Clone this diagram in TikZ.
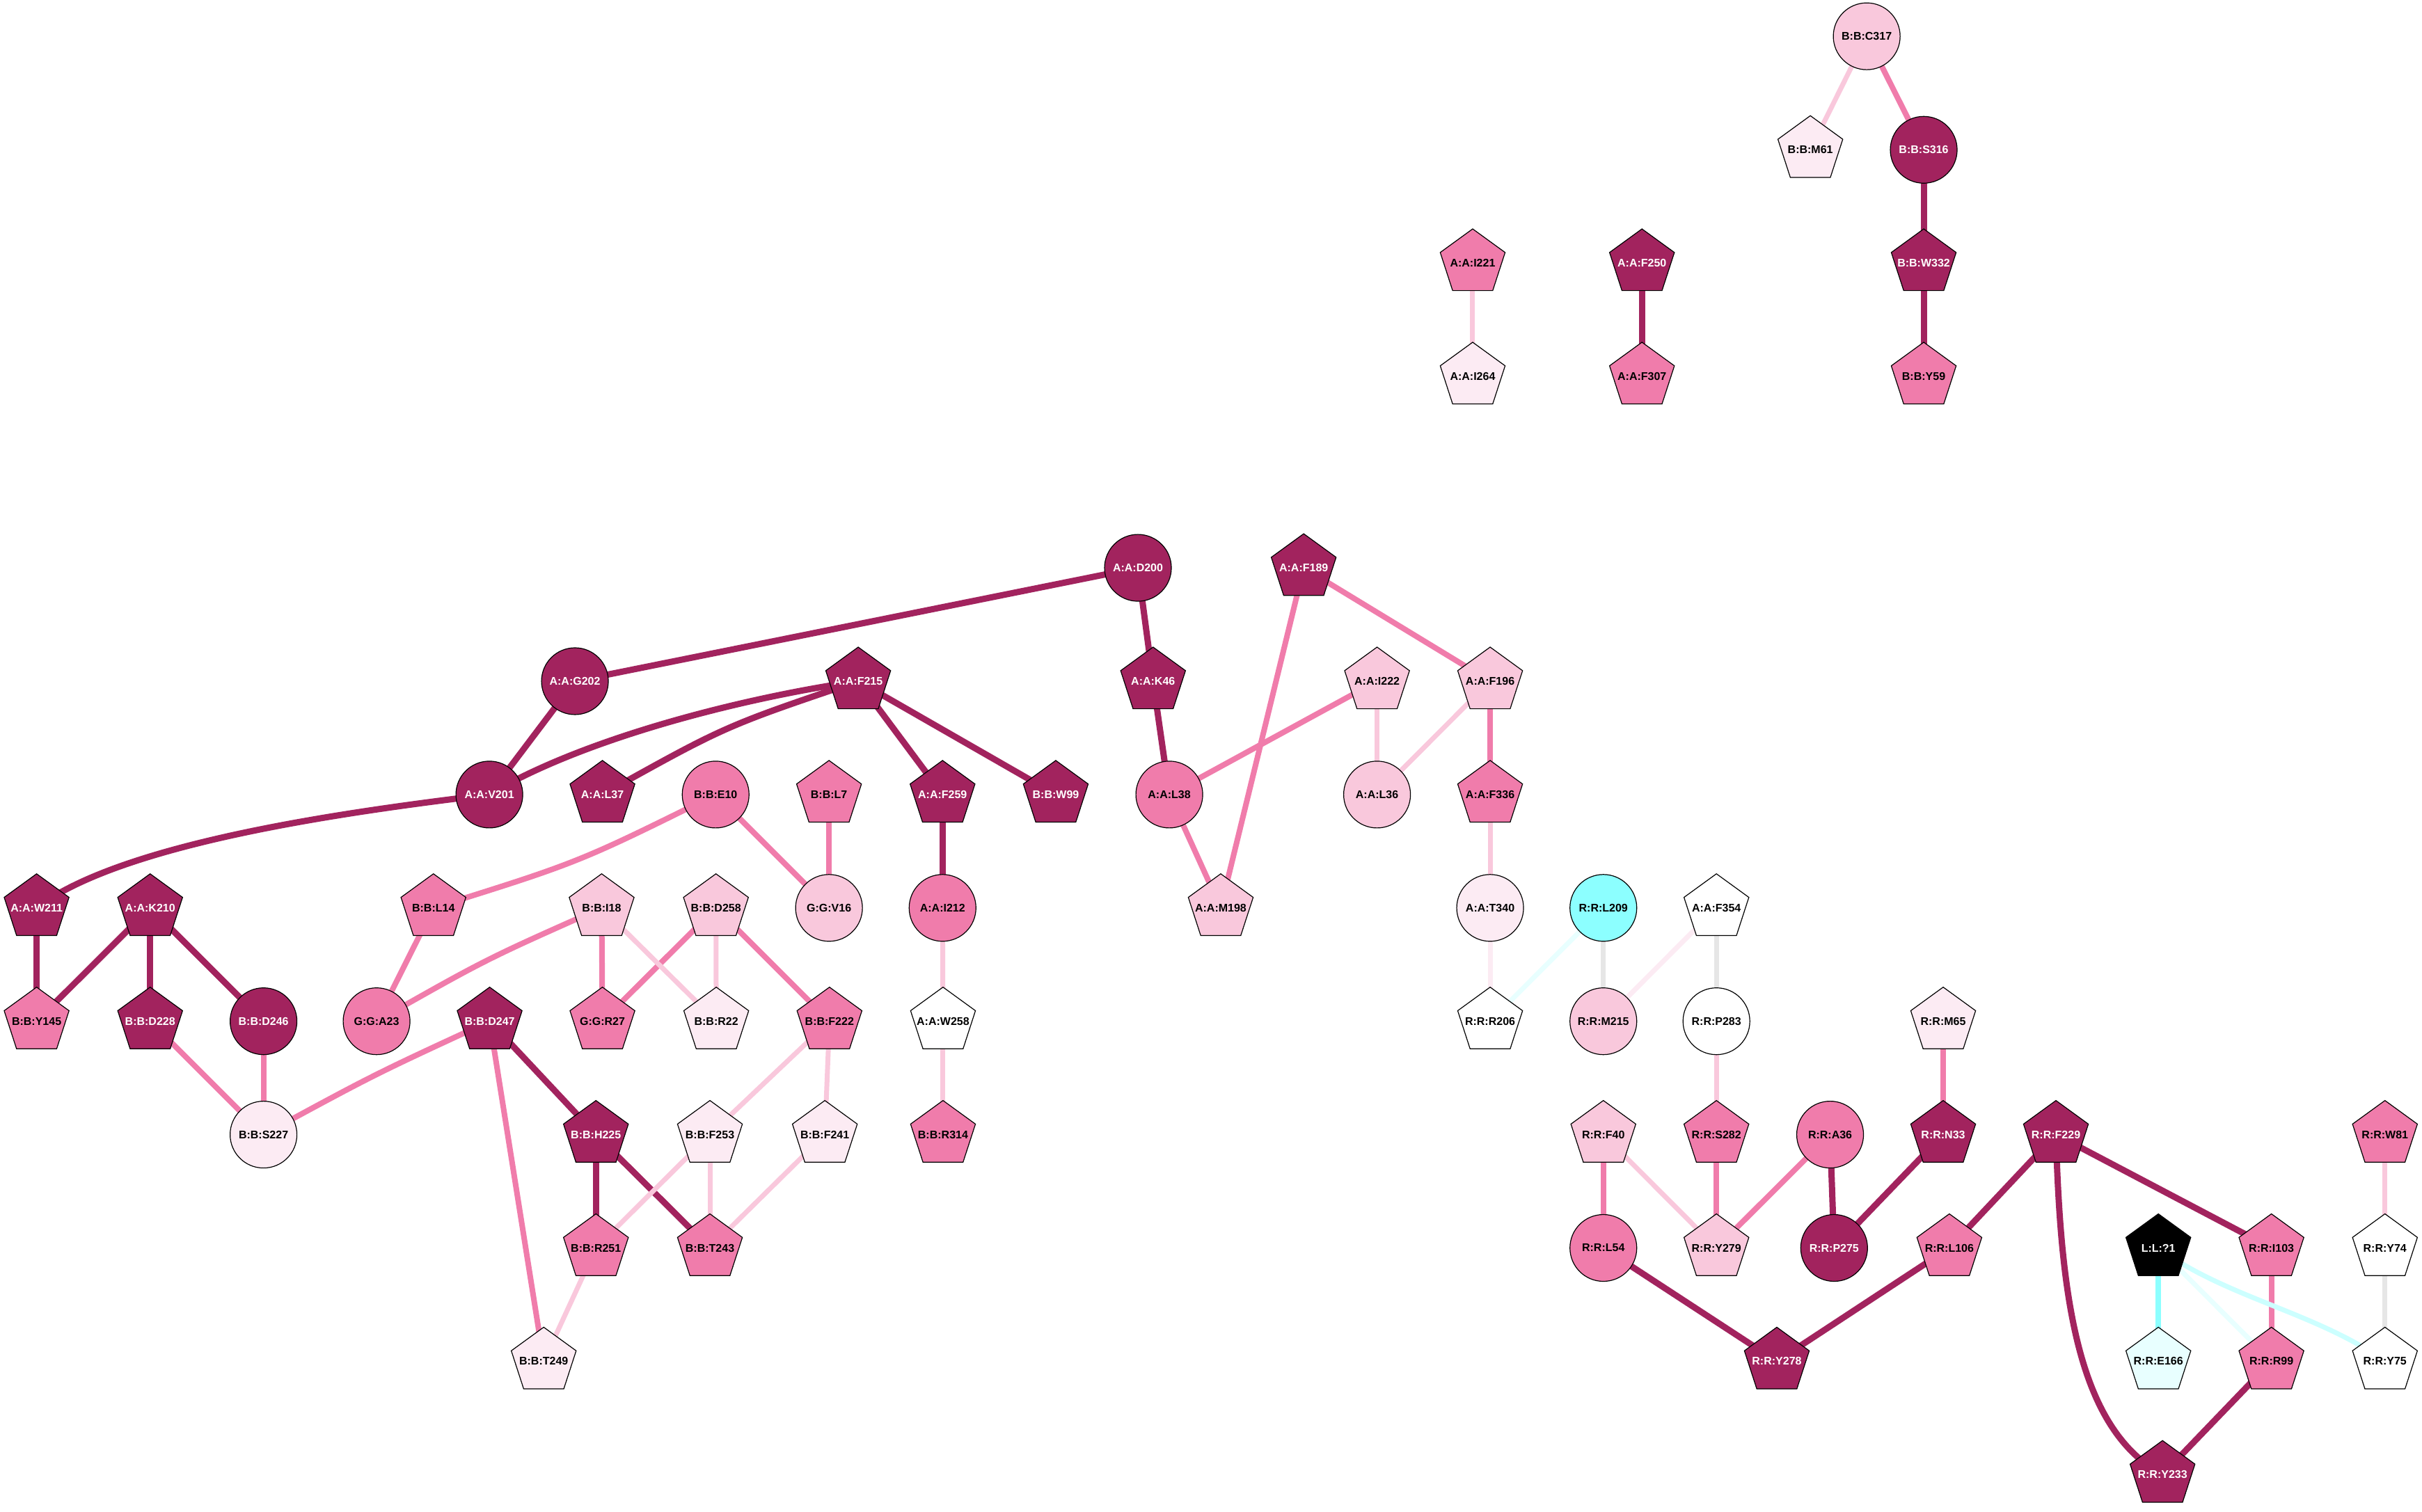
\documentclass[tikz,border=0pt]{standalone}
\usepackage{fontspec}
\setmainfont{Liberation Sans}
\usetikzlibrary{shapes.geometric}
\definecolor{cdark}{HTML}{A2235E}
\definecolor{cmed}{HTML}{F07CAB}
\definecolor{clight}{HTML}{F9C8DC}
\definecolor{cvlight}{HTML}{FCEBF3}
\definecolor{cgrey}{HTML}{E6E6E6}
\definecolor{ccyan}{HTML}{8CFFFF}
\definecolor{ccyanl}{HTML}{CCFFFF}
\definecolor{ccyanvl}{HTML}{E8FFFF}
\newcommand{\nlab}[1]{\makebox[0pt][c]{#1}}
\pgfdeclarelayer{bg}
\pgfdeclarelayer{edges}
\pgfsetlayers{bg,edges,main}
\tikzset{
  nbase/.style={draw=black, line width=1.2pt, inner sep=0pt, outer sep=0pt, text=black,
    font=\fontsize{16}{19}\selectfont\bfseries},
  ncirc/.style={nbase, circle, minimum size=96pt},
  npent/.style={nbase, regular polygon, regular polygon sides=5, minimum size=98pt},
  fdark/.style={fill=cdark, text=white},
  fmed/.style={fill=cmed},
  flight/.style={fill=clight},
  fvlight/.style={fill=cvlight},
  fwhite/.style={fill=white},
  fcyan/.style={fill=ccyan},
  fvcyan/.style={fill=ccyanvl},
  fblack/.style={fill=black, text=white},
  edark/.style={draw=cdark, line width=9pt},
  emed/.style={draw=cmed, line width=8pt},
  elight/.style={draw=clight, line width=7pt},
  evlight/.style={draw=cvlight, line width=7pt},
  egrey/.style={draw=cgrey, line width=7pt},
  ecyan/.style={draw=ccyan, line width=8pt},
  ecyanl/.style={draw=ccyanl, line width=7pt},
  ecyanvl/.style={draw=ccyanvl, line width=7pt}
}
\begin{document}
\begin{tikzpicture}[x=2.21939pt, y=-2.21939pt]
\useasboundingbox (0,0) rectangle (1568,979);
\begin{pgfonlayer}{bg}
\fill[white] (0,0) rectangle (1568,979);
\end{pgfonlayer}

% top group
\node[ncirc,flight] (C317) at (1208.5,23.5) {\nlab{B:B:C317}};
\node[npent,fvlight] (M61) at (1172,97) {\nlab{B:B:M61}};
\node[ncirc,fdark] (S316) at (1245.4,97) {\nlab{B:B:S316}};
\node[npent,fdark] (W332) at (1245.4,170.3) {\nlab{B:B:W332}};
\node[npent,fmed] (Y59) at (1245.4,243.7) {\nlab{B:B:Y59}};
\node[npent,fmed] (I221) at (953.4,170.3) {\nlab{A:A:I221}};
\node[npent,fvlight] (I264) at (953.4,243.7) {\nlab{A:A:I264}};
\node[npent,fdark] (F250) at (1063,170.3) {\nlab{A:A:F250}};
\node[npent,fmed] (F307) at (1063,243.7) {\nlab{A:A:F307}};

% main group
\node[ncirc,fdark] (D200) at (736.7,367.7) {\nlab{A:A:D200}};
\node[npent,fdark] (F189) at (844,367.7) {\nlab{A:A:F189}};
\node[ncirc,fdark] (G202) at (372.2,441.1) {\nlab{A:A:G202}};
\node[npent,fdark] (F215) at (555.6,441.1) {\nlab{A:A:F215}};
\node[npent,fdark] (K46) at (746.5,441.1) {\nlab{A:A:K46}};
\node[npent,flight] (I222) at (891.5,441.1) {\nlab{A:A:I222}};
\node[npent,flight] (F196) at (964.7,441.1) {\nlab{A:A:F196}};
\node[ncirc,fdark] (V201) at (316.8,514.5) {\nlab{A:A:V201}};
\node[npent,fdark] (L37) at (390,514.5) {\nlab{A:A:L37}};
\node[ncirc,fmed] (E10) at (463.3,514.5) {\nlab{B:B:E10}};
\node[npent,fmed] (L7) at (536.7,514.5) {\nlab{B:B:L7}};
\node[npent,fdark] (F259) at (610.2,514.5) {\nlab{A:A:F259}};
\node[npent,fdark] (W99) at (683.5,514.5) {\nlab{B:B:W99}};
\node[ncirc,fmed] (L38) at (757,514.5) {\nlab{A:A:L38}};
\node[ncirc,flight] (L36) at (891.5,514.5) {\nlab{A:A:L36}};
\node[npent,fmed] (F336) at (964.7,514.5) {\nlab{A:A:F336}};
\node[npent,fdark] (W211) at (23.7,587.9) {\nlab{A:A:W211}};
\node[npent,fdark] (K210) at (97.2,587.9) {\nlab{A:A:K210}};
\node[npent,fmed] (L14) at (280.6,587.9) {\nlab{B:B:L14}};
\node[npent,flight] (I18) at (389.5,587.9) {\nlab{B:B:I18}};
\node[npent,flight] (D258) at (463.5,587.9) {\nlab{B:B:D258}};
\node[ncirc,flight] (V16) at (536.7,587.9) {\nlab{G:G:V16}};
\node[ncirc,fmed] (I212) at (610.2,587.9) {\nlab{A:A:I212}};
\node[npent,flight] (M198) at (790.3,587.9) {\nlab{A:A:M198}};
\node[ncirc,fvlight] (T340) at (964.7,587.9) {\nlab{A:A:T340}};
\node[ncirc,fcyan] (L209) at (1038,587.9) {\nlab{R:R:L209}};
\node[npent,fwhite] (F354) at (1111.2,587.9) {\nlab{A:A:F354}};
\node[npent,fmed] (Y145) at (23.7,661.3) {\nlab{B:B:Y145}};
\node[npent,fdark] (D228) at (97.2,661.3) {\nlab{B:B:D228}};
\node[ncirc,fdark] (D246) at (170.6,661.3) {\nlab{B:B:D246}};
\node[ncirc,fmed] (A23) at (243.8,661.3) {\nlab{G:G:A23}};
\node[npent,fdark] (D247) at (317,661.3) {\nlab{B:B:D247}};
\node[npent,fmed] (R27) at (390,661.3) {\nlab{G:G:R27}};
\node[npent,fvlight] (R22) at (463.7,661.3) {\nlab{B:B:R22}};
\node[npent,fmed] (F222) at (537,661.3) {\nlab{B:B:F222}};
\node[npent,fwhite] (W258) at (610.5,661.3) {\nlab{A:A:W258}};
\node[npent,fwhite] (R206) at (964.7,661.3) {\nlab{R:R:R206}};
\node[ncirc,flight] (M215) at (1038,661.3) {\nlab{R:R:M215}};
\node[ncirc,fwhite] (P283) at (1111.2,661.3) {\nlab{R:R:P283}};
\node[npent,fvlight] (M65) at (1258,661.3) {\nlab{R:R:M65}};
\node[ncirc,fvlight] (S227) at (170.6,734.7) {\nlab{B:B:S227}};
\node[npent,fdark] (H225) at (385.8,734.7) {\nlab{B:B:H225}};
\node[npent,fvlight] (F253) at (459.6,734.7) {\nlab{B:B:F253}};
\node[npent,fvlight] (F241) at (534,734.7) {\nlab{B:B:F241}};
\node[npent,fmed] (R314) at (610.5,734.7) {\nlab{B:B:R314}};
\node[npent,flight] (F40) at (1038,734.7) {\nlab{R:R:F40}};
\node[npent,fmed] (S282) at (1111.2,734.7) {\nlab{R:R:S282}};
\node[ncirc,fmed] (A36) at (1184.8,734.7) {\nlab{R:R:A36}};
\node[npent,fdark] (N33) at (1258,734.7) {\nlab{R:R:N33}};
\node[npent,fdark] (F229) at (1331,734.7) {\nlab{R:R:F229}};
\node[npent,fmed] (W81) at (1544,734.7) {\nlab{R:R:W81}};
\node[npent,fmed] (R251) at (385.8,808.1) {\nlab{B:B:R251}};
\node[npent,fmed] (T243) at (459.6,808.1) {\nlab{B:B:T243}};
\node[ncirc,fmed] (L54) at (1038,808.1) {\nlab{R:R:L54}};
\node[npent,flight] (Y279) at (1111.2,808.1) {\nlab{R:R:Y279}};
\node[ncirc,fdark] (P275) at (1187.4,808.1) {\nlab{R:R:P275}};
\node[npent,fmed] (L106) at (1262,808.1) {\nlab{R:R:L106}};
\node[npent,fblack] (Q1) at (1397.3,808.1) {\nlab{L:L:?1}};
\node[npent,fmed] (I103) at (1470.5,808.1) {\nlab{R:R:I103}};
\node[npent,fwhite] (Y74) at (1544,808.1) {\nlab{R:R:Y74}};
\node[npent,fvlight] (T249) at (352,881.5) {\nlab{B:B:T249}};
\node[npent,fdark] (Y278) at (1150.3,881.5) {\nlab{R:R:Y278}};
\node[npent,fvcyan] (E166) at (1397.3,881.5) {\nlab{R:R:E166}};
\node[npent,fmed] (R99) at (1470.5,881.5) {\nlab{R:R:R99}};
\node[npent,fwhite] (Y75) at (1544,881.5) {\nlab{R:R:Y75}};
\node[npent,fdark] (Y233) at (1400,954.9) {\nlab{R:R:Y233}};

\begin{pgfonlayer}{edges}
% dark edges
\draw[edark] (S316.center) -- (W332.center);
\draw[edark] (W332.center) -- (Y59.center);
\draw[edark] (F250.center) -- (F307.center);
\draw[edark] (D200.center) -- (G202.center);
\draw[edark] (D200.center) -- (K46.center);
\draw[edark] (G202.center) -- (V201.center);
\draw[edark] (F215.center) .. controls (480,452) and (376.8,478.5) .. (V201.center);
\draw[edark] (F215.center) .. controls (469.4,470.2) .. (L37.center);
\draw[edark] (F215.center) -- (F259.center);
\draw[edark] (F215.center) -- (W99.center);
\draw[edark] (V201.center) .. controls (230,525) and (80,545) .. (W211.center);
\draw[edark] (K46.center) -- (L38.center);
\draw[edark] (F259.center) -- (I212.center);
\draw[edark] (W211.center) -- (Y145.center);
\draw[edark] (K210.center) -- (Y145.center);
\draw[edark] (K210.center) -- (D228.center);
\draw[edark] (K210.center) -- (D246.center);
\draw[edark] (D247.center) -- (H225.center);
\draw[edark] (H225.center) -- (R251.center);
\draw[edark] (H225.center) -- (T243.center);
\draw[edark] (A36.center) -- (P275.center);
\draw[edark] (N33.center) -- (P275.center);
\draw[edark] (L54.center) -- (Y278.center);
\draw[edark] (L106.center) -- (Y278.center);
\draw[edark] (F229.center) -- (L106.center);
\draw[edark] (F229.center) -- (I103.center);
\draw[edark] (F229.center) .. controls (1334,840) and (1345,925) .. (Y233.center);
\draw[edark] (R99.center) -- (Y233.center);
% medium edges
\draw[emed] (C317.center) -- (S316.center);
\draw[emed] (F189.center) -- (M198.center);
\draw[emed] (F189.center) -- (F196.center);
\draw[emed] (I222.center) -- (L38.center);
\draw[emed] (F196.center) -- (F336.center);
\draw[emed] (L38.center) -- (M198.center);
\draw[emed] (L7.center) -- (V16.center);
\draw[emed] (E10.center) -- (V16.center);
\draw[emed] (E10.center) .. controls (374.8,558.4) .. (L14.center);
\draw[emed] (L14.center) -- (A23.center);
\draw[emed] (I18.center) .. controls (314.85,621.0) .. (A23.center);
\draw[emed] (I18.center) -- (R27.center);
\draw[emed] (D258.center) -- (R27.center);
\draw[emed] (D258.center) -- (F222.center);
\draw[emed] (D228.center) -- (S227.center);
\draw[emed] (D246.center) -- (S227.center);
\draw[emed] (D247.center) .. controls (242.6,695.6) .. (S227.center);
\draw[emed] (D247.center) -- (T249.center);
\draw[emed] (M65.center) -- (N33.center);
\draw[emed] (F40.center) -- (L54.center);
\draw[emed] (S282.center) -- (Y279.center);
\draw[emed] (A36.center) -- (Y279.center);
\draw[emed] (I103.center) -- (R99.center);
% light edges
\draw[elight] (C317.center) -- (M61.center);
\draw[elight] (I221.center) -- (I264.center);
\draw[elight] (I222.center) -- (L36.center);
\draw[elight] (F196.center) -- (L36.center);
\draw[elight] (F336.center) -- (T340.center);
\draw[elight] (I212.center) -- (W258.center);
\draw[elight] (W258.center) -- (R314.center);
\draw[elight] (I18.center) -- (R22.center);
\draw[elight] (D258.center) -- (R22.center);
\draw[elight] (F222.center) -- (F253.center);
\draw[elight] (F222.center) -- (F241.center);
\draw[elight] (F253.center) -- (R251.center);
\draw[elight] (F253.center) -- (T243.center);
\draw[elight] (F241.center) -- (T243.center);
\draw[elight] (R251.center) -- (T249.center);
\draw[elight] (P283.center) -- (S282.center);
\draw[elight] (F40.center) -- (Y279.center);
\draw[elight] (W81.center) -- (Y74.center);
% very light, grey, cyan edges
\draw[evlight] (T340.center) -- (R206.center);
\draw[evlight] (F354.center) -- (M215.center);
\draw[egrey] (L209.center) -- (M215.center);
\draw[egrey] (F354.center) -- (P283.center);
\draw[egrey] (Y74.center) -- (Y75.center);
\draw[ecyanvl] (L209.center) -- (R206.center);
\draw[ecyanvl] (Q1.center) -- (R99.center);
\draw[ecyanl] (Q1.center) .. controls (1440,840) and (1500,850) .. (Y75.center);
\draw[ecyan] (Q1.center) -- (E166.center);
\end{pgfonlayer}
\end{tikzpicture}
\end{document}
